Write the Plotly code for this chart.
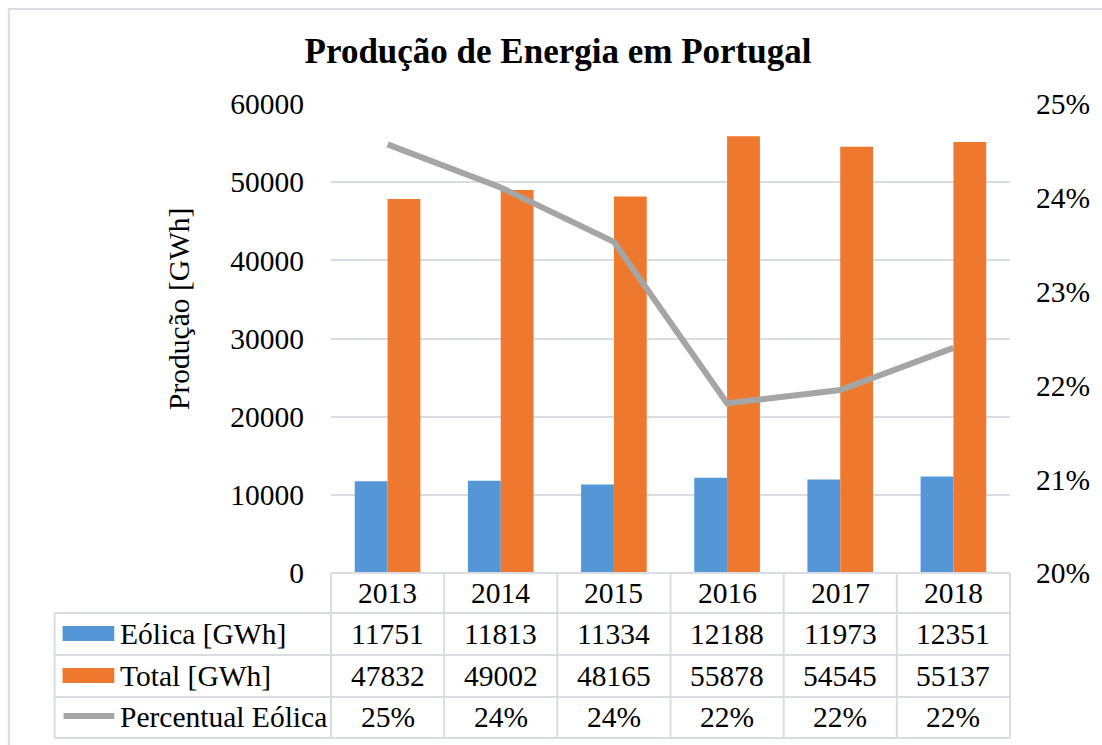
import plotly.graph_objects as go

years = ["2013", "2014", "2015", "2016", "2017", "2018"]
eolica = [11751, 11813, 11334, 12188, 11973, 12351]
total = [47832, 49002, 48165, 55878, 54545, 55137]
percentual = [0.2457, 0.2411, 0.2353, 0.2181, 0.2195, 0.2240]
percent_labels = ["25%", "24%", "24%", "22%", "22%", "22%"]
series_names = ["Eólica [GWh]", "Total [GWh]", "Percentual Eólica"]

W, H = 1102, 745
L, R, T, B = 331, 1014, 104, 573
pw, ph = R - L, B - T

def px(x):
    return (x - L) / pw

def py(y):
    return (B - y) / ph

FONT = "Liberation Serif, Times New Roman, serif"
FS = 29.5
BLUE = "#5597D6"
ORANGE = "#EE792E"
GRAY = "#A5A5A5"
GRID = "#D9DCE1"

fig = go.Figure()
fig.add_trace(go.Bar(x=years, y=eolica, name=series_names[0], marker=dict(color=BLUE, line=dict(width=0))))
fig.add_trace(go.Bar(x=years, y=total, name=series_names[1], marker=dict(color=ORANGE, line=dict(width=0))))
fig.add_trace(go.Scatter(x=years, y=percentual, name=series_names[2], yaxis="y2", mode="lines",
                         line=dict(color=GRAY, width=6)))

shapes = []
annotations = []
line = dict(color=GRID, width=2)

# outer chart border
shapes.append(dict(type="rect", xref="paper", yref="paper", x0=px(7), x1=px(1110), y0=py(760), y1=py(9),
                   line=dict(color=GRID, width=2), layer="below"))

# data table grid
row_lines = [573, 613, 655, 697, 738]
for i, yy in enumerate(row_lines):
    x0 = L if i == 0 else 53
    shapes.append(dict(type="line", xref="paper", yref="paper", x0=px(x0), x1=px(R), y0=py(yy), y1=py(yy), line=line))
ncat = len(years)
for k in range(ncat + 1):
    xx = L + pw * k / ncat
    shapes.append(dict(type="line", xref="paper", yref="paper", x0=px(xx), x1=px(xx), y0=py(573), y1=py(738), line=line))
shapes.append(dict(type="line", xref="paper", yref="paper", x0=px(53), x1=px(53), y0=py(613), y1=py(738), line=line))

# legend keys in table
shapes.append(dict(type="rect", xref="paper", yref="paper", x0=px(61), x1=px(113), y0=py(641), y1=py(626),
                   fillcolor=BLUE, line=dict(width=0)))
shapes.append(dict(type="rect", xref="paper", yref="paper", x0=px(61), x1=px(113), y0=py(683), y1=py(668),
                   fillcolor=ORANGE, line=dict(width=0)))
shapes.append(dict(type="line", xref="paper", yref="paper", x0=px(62), x1=px(113), y0=py(716), y1=py(716),
                   line=dict(color=GRAY, width=6)))

row_centers = [634, 676, 717]
for name, yc in zip(series_names, row_centers):
    annotations.append(dict(text=name, xref="paper", yref="paper", x=px(117), y=py(yc), xanchor="left",
                            yanchor="middle", showarrow=False, font=dict(family=FONT, size=FS, color="#000")))
for vals, yc in zip([eolica, total, percent_labels], row_centers):
    for i, v in enumerate(vals):
        annotations.append(dict(text=str(v), xref="x", yref="paper", x=i, y=py(yc), xanchor="center",
                                yanchor="middle", showarrow=False, font=dict(family=FONT, size=FS, color="#000")))

# year labels
for i, yr in enumerate(years):
    annotations.append(dict(text=yr, xref="x", yref="paper", x=i, y=py(593), xanchor="center",
                            yanchor="middle", showarrow=False, font=dict(family=FONT, size=FS, color="#000")))

# y axis title
annotations.append(dict(text="Produção [GWh]", xref="paper", yref="paper", x=px(178), y=py(309),
                        textangle=-90, showarrow=False, xanchor="center", yanchor="middle",
                        font=dict(family=FONT, size=FS, color="#000")))

fig.update_layout(
    width=W, height=H,
    margin=dict(l=L, r=W - R, t=T, b=H - B, pad=0),
    paper_bgcolor="white", plot_bgcolor="white",
    showlegend=False,
    barmode="group", bargap=0.42, bargroupgap=0,
    title=dict(text="<b>Produção de Energia em Portugal</b>", x=558 / W, xanchor="center",
               y=1 - 51 / H, yanchor="middle", font=dict(family=FONT, size=35, color="#000")),
    xaxis=dict(type="category", range=[-0.5, 5.5], showticklabels=False, showgrid=False, zeroline=False,
               showline=False, ticks=""),
    yaxis=dict(range=[0, 60000], dtick=10000, showgrid=True, gridcolor=GRID, gridwidth=2, zeroline=False,
               showline=False, ticks="outside", ticklen=20, tickcolor="rgba(0,0,0,0)",
               tickfont=dict(family=FONT, size=FS, color="#000"), tickformat="d"),
    yaxis2=dict(range=[0.20, 0.25], dtick=0.01, overlaying="y", side="right", showgrid=False, zeroline=False,
                showline=False, ticks="outside", ticklen=19, tickcolor="rgba(0,0,0,0)", tickformat=".0%",
                tickfont=dict(family=FONT, size=FS, color="#000")),
    shapes=shapes,
    annotations=annotations,
)

fig.write_html("out.html", config={"displayModeBar": False},
               post_script="document.body.style.margin='0';document.body.style.overflow='hidden';")
